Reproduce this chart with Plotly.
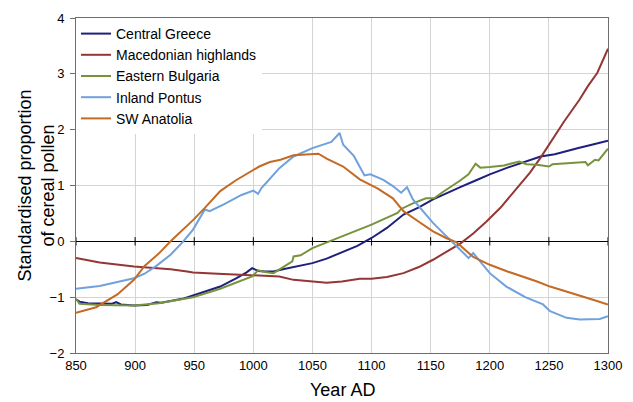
import plotly.graph_objects as go

# ---------------- data ----------------
greece_x = [850, 853, 860, 870, 880, 884, 888, 899, 910, 918, 922, 930, 940, 949, 960, 972, 985, 994, 999, 1004, 1010, 1017, 1025, 1035, 1050, 1062, 1075, 1088, 1100, 1113, 1127, 1140, 1152, 1165, 1175, 1188, 1200, 1215, 1230, 1243, 1255, 1265, 1275, 1288, 1300]
greece_y = [-1.04, -1.08, -1.11, -1.12, -1.12, -1.09, -1.13, -1.15, -1.14, -1.09, -1.10, -1.07, -1.03, -0.97, -0.90, -0.81, -0.67, -0.56, -0.48, -0.53, -0.54, -0.54, -0.50, -0.46, -0.39, -0.31, -0.20, -0.08, 0.06, 0.24, 0.48, 0.61, 0.75, 0.88, 0.97, 1.09, 1.20, 1.32, 1.43, 1.52, 1.56, 1.61, 1.67, 1.74, 1.80]

maced_x = [850, 870, 899, 915, 930, 944, 949, 970, 999, 1014, 1022, 1034, 1050, 1062, 1075, 1090, 1100, 1113, 1127, 1140, 1152, 1163, 1175, 1186, 1197, 1209, 1222, 1234, 1243, 1251, 1263, 1276, 1283, 1291, 1300]
maced_y = [-0.30, -0.38, -0.45, -0.48, -0.50, -0.54, -0.56, -0.58, -0.61, -0.63, -0.63, -0.69, -0.72, -0.74, -0.72, -0.67, -0.67, -0.64, -0.57, -0.46, -0.33, -0.19, -0.04, 0.14, 0.35, 0.60, 0.92, 1.23, 1.50, 1.76, 2.15, 2.54, 2.78, 3.02, 3.45]

bulg_x = [850, 853, 870, 899, 920, 949, 972, 990, 999, 1004, 1010, 1017, 1027, 1033, 1034, 1040, 1050, 1075, 1100, 1122, 1125, 1135, 1146, 1153, 1160, 1175, 1182, 1188, 1192, 1200, 1212, 1225, 1231, 1240, 1250, 1253, 1265, 1281, 1283, 1289, 1292, 1300]
bulg_y = [-1.03, -1.12, -1.14, -1.15, -1.11, -1.00, -0.85, -0.71, -0.63, -0.52, -0.55, -0.57, -0.43, -0.36, -0.27, -0.25, -0.12, 0.09, 0.30, 0.51, 0.58, 0.68, 0.77, 0.77, 0.88, 1.09, 1.20, 1.39, 1.32, 1.33, 1.36, 1.43, 1.38, 1.37, 1.34, 1.38, 1.40, 1.42, 1.36, 1.46, 1.45, 1.66]

pontus_x = [850, 870, 885, 899, 908, 918, 930, 940, 949, 959, 963, 975, 990, 1000, 1004, 1007, 1011, 1022, 1034, 1050, 1066, 1073, 1076, 1085, 1094, 1099, 1110, 1118, 1125, 1130, 1135, 1145, 1152, 1160, 1168, 1175, 1182, 1186, 1200, 1214, 1230, 1243, 1245, 1251, 1265, 1276, 1293, 1300]
pontus_y = [-0.85, -0.80, -0.73, -0.66, -0.58, -0.44, -0.24, -0.02, 0.21, 0.57, 0.54, 0.66, 0.83, 0.91, 0.85, 0.96, 1.05, 1.31, 1.52, 1.67, 1.78, 1.94, 1.73, 1.53, 1.18, 1.20, 1.10, 0.99, 0.87, 0.97, 0.75, 0.50, 0.33, 0.16, 0.00, -0.15, -0.30, -0.21, -0.57, -0.81, -1.00, -1.12, -1.13, -1.25, -1.37, -1.40, -1.39, -1.34]

anat_x = [850, 867, 885, 899, 908, 920, 930, 940, 949, 959, 972, 985, 999, 1005, 1014, 1023, 1034, 1045, 1055, 1062, 1076, 1090, 1105, 1118, 1127, 1140, 1152, 1163, 1172, 1186, 1200, 1215, 1228, 1240, 1251, 1264, 1276, 1288, 1300]
anat_y = [-1.28, -1.18, -0.95, -0.69, -0.44, -0.22, 0.00, 0.20, 0.38, 0.60, 0.90, 1.09, 1.27, 1.34, 1.42, 1.46, 1.54, 1.56, 1.57, 1.48, 1.34, 1.11, 0.95, 0.77, 0.54, 0.35, 0.18, 0.06, -0.02, -0.28, -0.42, -0.54, -0.63, -0.72, -0.81, -0.89, -0.97, -1.05, -1.13]

series = [
    ("Central Greece", greece_x, greece_y, "#1F1F7D"),
    ("Macedonian highlands", maced_x, maced_y, "#943634"),
    ("Eastern Bulgaria", bulg_x, bulg_y, "#77933C"),
    ("Inland Pontus", pontus_x, pontus_y, "#6FA1DC"),
    ("SW Anatolia", anat_x, anat_y, "#C46A24"),
]

x_ticks = [850, 900, 950, 1000, 1050, 1100, 1150, 1200, 1250, 1300]
y_ticks = [-2, -1, 0, 1, 2, 3, 4]

fig = go.Figure()

# small tick marks crossing the zero line (category axis crosses at 0)
fig.add_trace(go.Scatter(
    x=x_ticks, y=[0] * len(x_ticks), mode="markers",
    marker=dict(symbol="line-ns", size=6, line=dict(color="black", width=1)),
    showlegend=False, hoverinfo="skip"))

for name, xs, ys, col in series:
    fig.add_trace(go.Scatter(x=xs, y=ys, mode="lines", name=name,
                             line=dict(color=col, width=2)))

font = "Liberation Sans, Arial, sans-serif"
fig.update_layout(
    width=633, height=402,
    margin=dict(l=76, r=25, t=18, b=49, autoexpand=False),
    paper_bgcolor="white", plot_bgcolor="white",
    font=dict(family=font, size=13, color="black"),
    legend=dict(x=0.0, y=1.0, xanchor="left", yanchor="top",
                bgcolor="white", font=dict(size=14), tracegroupgap=0,
                itemwidth=30),
    xaxis=dict(range=[850, 1300], tickvals=x_ticks, showgrid=True,
               gridcolor="#D4D4D4", gridwidth=1, showline=True,
               linecolor="#6E6E6E", linewidth=1, mirror=True, ticks="",
               zeroline=False, tickfont=dict(size=13), ticklabelstandoff=0,
               automargin=False),
    yaxis=dict(range=[-2, 4], tickvals=y_ticks, showgrid=True,
               gridcolor="#D4D4D4", gridwidth=1, showline=True,
               linecolor="#6E6E6E", linewidth=1, mirror=True,
               ticks="outside", ticklen=5, tickcolor="#6E6E6E",
               ticklabelstandoff=3, automargin=False,
               zeroline=True, zerolinecolor="black", zerolinewidth=1,
               tickfont=dict(size=13)),
    annotations=[
        dict(text="Standardised proportion<br>of cereal pollen",
             xref="paper", yref="paper", x=-0.075, y=0.5,
             xanchor="center", yanchor="middle", textangle=-90,
             showarrow=False, font=dict(size=18)),
        dict(text="Year AD", xref="paper", yref="paper", x=0.5, y=-0.11,
             xanchor="center", yanchor="middle", showarrow=False,
             font=dict(size=18)),
    ],
)

fig.write_html("out.html")
